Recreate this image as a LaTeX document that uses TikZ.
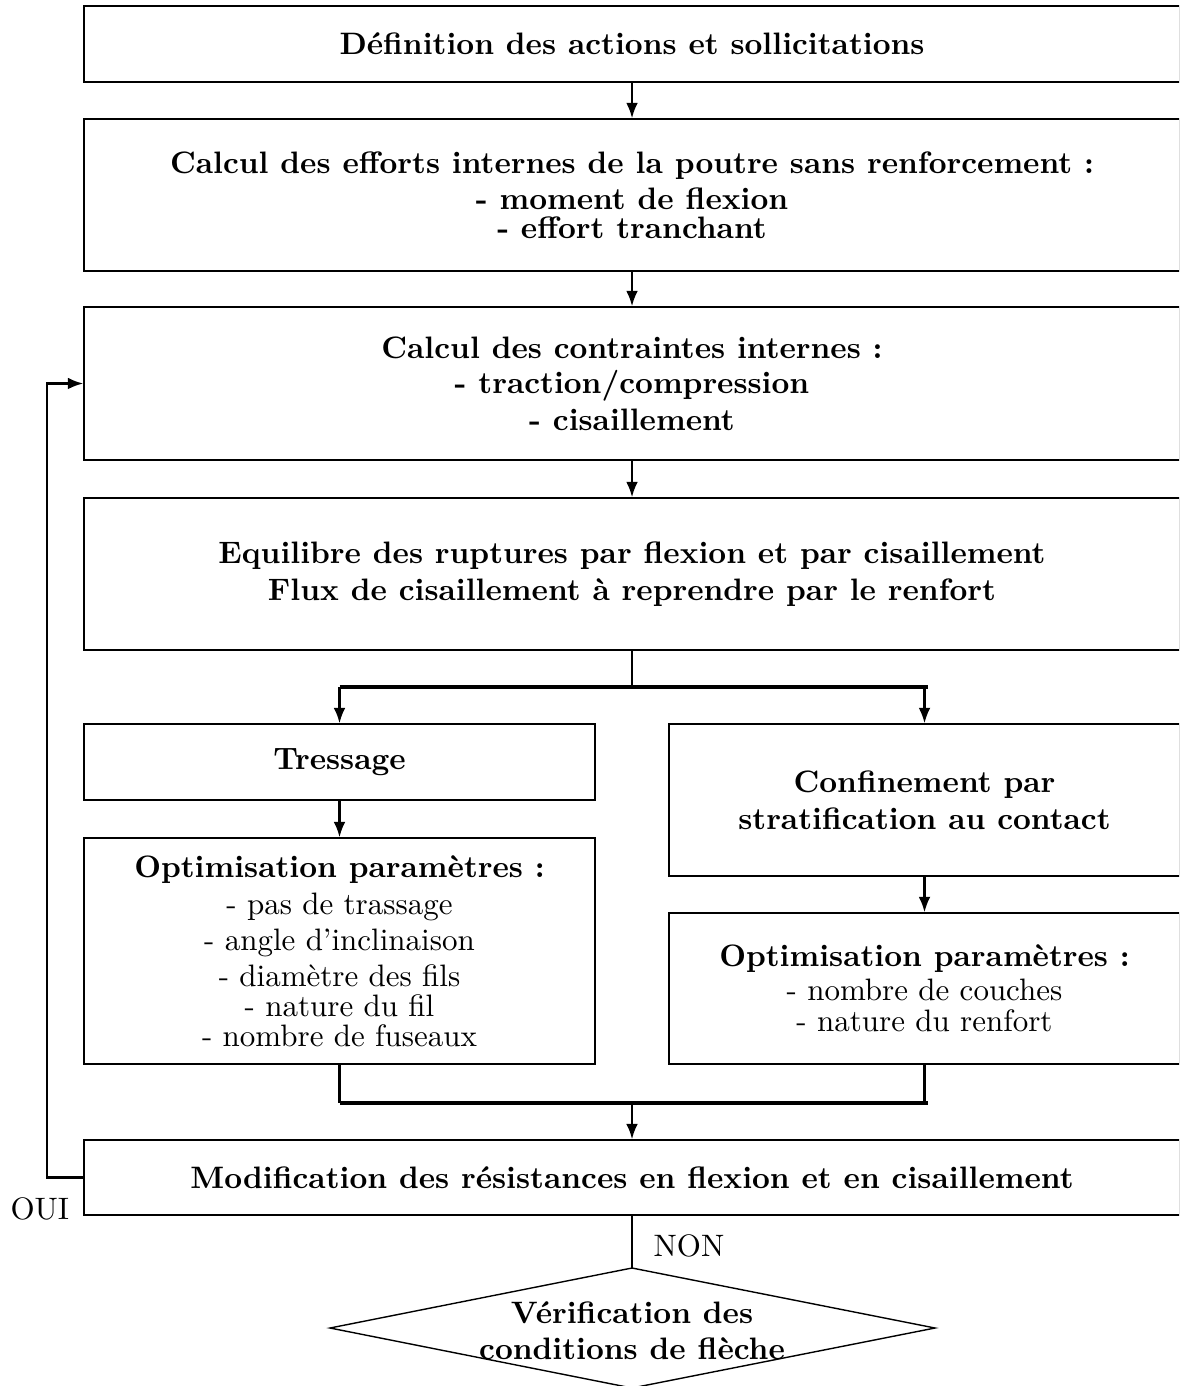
\documentclass[tikz,border=0pt]{standalone}
\usetikzlibrary{arrows.meta}
\begin{document}
\begin{tikzpicture}[x=0.3226pt,y=-0.3226pt,
  box/.style={draw,line width=0.45pt,inner sep=0pt,align=center,font=\bfseries},
  nbox/.style={draw,line width=0.45pt,inner sep=0pt,align=center},
  wide/.style={minimum width=353.6pt},
  half/.style={minimum width=164.85pt},
  conn/.style={line width=0.7pt},
  arr/.style={conn,-{Latex[length=5pt,width=3.8pt]}},
  bar/.style={line width=1pt},
  lbl/.style={anchor=base west,inner sep=0pt}]
\useasboundingbox (0,0) rectangle (1179,1386);
\clip (0,0) rectangle (1179,1386);
\node[box,wide,minimum height=24.52pt] (b1) at (632,44) {Définition des actions et sollicitations};
\node[box,wide,minimum height=49.04pt] (b2) at (632,195) {Calcul des efforts internes de la poutre sans renforcement :\\[-0.3pt] - moment de flexion\\[-2.6pt] - effort tranchant};
\node[box,wide,minimum height=49.36pt] (b3) at (632,383.5) {Calcul des contraintes internes :\\[-0.6pt] - traction/compression\\[-0.2pt] - cisaillement};
\node[box,wide,minimum height=49.04pt] (b4) at (632,574) {Equilibre des ruptures par flexion et par cisaillement\\ Flux de cisaillement à reprendre par le renfort};
\node[box,half,minimum height=24.52pt] (tr) at (339.5,762) {Tressage};
\node[box,half,minimum height=49.04pt] (cf) at (924.5,800) {Confinement par\\ stratification au contact};
\node[nbox,half,minimum height=72.91pt] (ol) at (339.5,951) {\textbf{Optimisation paramètres :}\\ - pas de trassage\\[-0.4pt] - angle d'inclinaison\\[-0.4pt] - diamètre des fils\\[-2.2pt] - nature du fil\\[-2.4pt] - nombre de fuseaux};
\node[nbox,half,minimum height=48.71pt] (or) at (924.5,988.5) {\textbf{Optimisation paramètres :}\\[-1pt] - nombre de couches\\[-2pt] - nature du renfort};
\node[box,wide,minimum height=24.2pt] (md) at (632,1177.5) {Modification des résistances en flexion et en cisaillement};
% diamond
\coordinate (dt) at (632,1268);
\coordinate (dr) at (935,1328);
\coordinate (db) at (632,1388);
\coordinate (dl) at (330,1328);
\draw[line width=0.45pt] (dt) -- (dr) -- (db) -- (dl) -- cycle;
\node[font=\bfseries,align=center,inner sep=0pt] (dtx) at (632,1331) {Vérification des\\[-0.4pt] conditions de flèche};
% connectors
\draw[arr] (b1.south) -- (b2.north);
\draw[arr] (b2.south) -- (b3.north);
\draw[arr] (b3.south) -- (b4.north);
\coordinate (sp) at (632,687);
\coordinate (spl) at (tr.north |- sp);
\coordinate (spr) at (cf.north |- sp);
\coordinate (spe) at (928,687);
\draw[conn] (b4.south) -- (sp);
\draw[bar] (spl) -- (spe);
\draw[arr] (spl) -- (tr.north);
\draw[arr] (spr) -- (cf.north);
\draw[arr] (tr.south) -- (ol.north);
\draw[arr] (cf.south) -- (or.north);
\coordinate (mg) at (632,1103);
\coordinate (mgl) at (ol.south |- mg);
\coordinate (mgr) at (or.south |- mg);
\coordinate (mge) at (928,1103);
\draw[conn] (ol.south) -- (mgl);
\draw[conn] (or.south) -- (mgr);
\draw[bar] (mgl) -- (mge);
\draw[arr] (mg) -- (md.north);
\coordinate (fb) at (47,1178);
\draw[arr] (md.west) -- (fb |- md.west) -- (fb |- b3.west) -- (b3.west);
\draw[conn] (md.south) -- (dt);
\node[lbl] (non) at (653,1256) {NON};
\node[lbl] (oui) at (10,1219) {OUI};
\end{tikzpicture}
\end{document}
